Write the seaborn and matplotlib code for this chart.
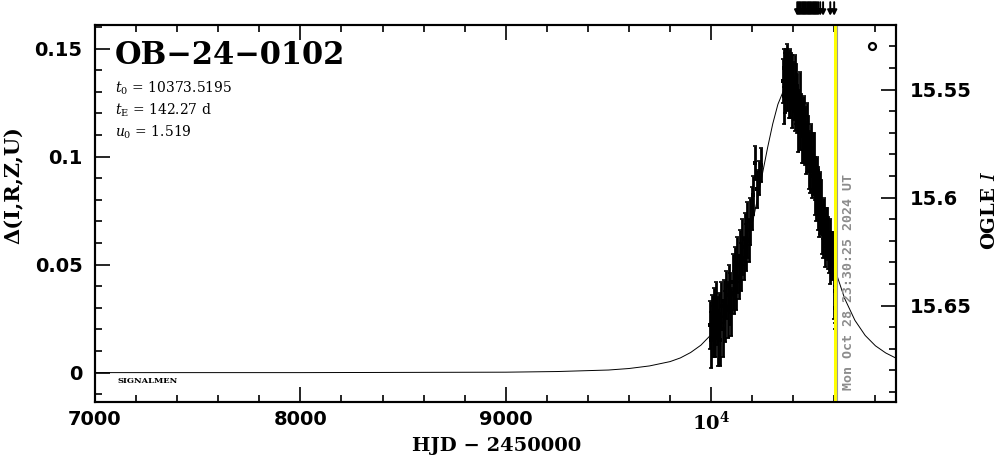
import matplotlib
matplotlib.use("Agg")
import matplotlib.pyplot as plt
from matplotlib.ticker import MultipleLocator
import numpy as np
import seaborn as sns

# model light curve
model_hjd = [7000, 7500, 8000, 8500, 9000, 9250, 9500, 9600, 9700, 9800, 9850, 9900,
             9950, 10000, 10050, 10100, 10150, 10175, 10200, 10225, 10250, 10275, 10300,
             10325, 10350, 10373.5, 10400, 10425, 10450, 10475, 10500, 10525, 10550,
             10575, 10600, 10650, 10700, 10750, 10800, 10850, 10900]
model_dmag = [0.0, 0.0, 0.0, 0.0001, 0.0002, 0.0005, 0.0012, 0.0019, 0.0031, 0.0051, 0.0068, 0.0093,
              0.0127, 0.0176, 0.0248, 0.0350, 0.0495, 0.0586, 0.0689, 0.0801, 0.0922, 0.1042, 0.1152,
              0.1242, 0.1300, 0.1318, 0.1295, 0.1233, 0.1140, 0.1028, 0.0908, 0.0788, 0.0676,
              0.0574, 0.0485, 0.0343, 0.0242, 0.0172, 0.0124, 0.0091, 0.0067]

# OGLE points, rising branch
rise_hjd = [9995, 10000, 10004, 10008, 10012, 10016, 10020, 10025, 10030, 10034, 10040, 10045,
            10050, 10056, 10062, 10068, 10074, 10080, 10086, 10092, 10098, 10104, 10110, 10116,
            10122, 10128, 10134, 10140, 10146, 10152, 10158, 10164, 10170, 10176, 10182, 10190,
            10198, 10206, 10214, 10222, 10232, 10242]
rise_dmag = [0.022, 0.015, 0.026, 0.019, 0.028, 0.021, 0.017, 0.030, 0.024, 0.016, 0.027, 0.015,
             0.031, 0.020, 0.033, 0.026, 0.036, 0.029, 0.040, 0.034, 0.028, 0.042, 0.037, 0.046,
             0.040, 0.050, 0.044, 0.054, 0.049, 0.058, 0.053, 0.062, 0.058, 0.066, 0.061, 0.070,
             0.076, 0.082, 0.097, 0.085, 0.090, 0.096]
rise_err = [0.011, 0.013, 0.010, 0.012, 0.011, 0.014, 0.010, 0.012, 0.011, 0.013, 0.010, 0.012,
            0.011, 0.013, 0.010, 0.012, 0.011, 0.013, 0.010, 0.012, 0.011, 0.013, 0.010, 0.012,
            0.011, 0.013, 0.010, 0.012, 0.011, 0.013, 0.010, 0.012, 0.011, 0.013, 0.010, 0.011,
            0.010, 0.009, 0.008, 0.009, 0.008, 0.008]

# peak and falling branch
fall_hjd = [10350, 10354, 10357, 10361, 10364, 10368, 10371, 10375, 10378, 10382, 10385, 10389,
            10392, 10396, 10399, 10403, 10406, 10410, 10413, 10417, 10420, 10424, 10427, 10431,
            10434, 10438, 10441, 10445, 10448, 10452, 10455, 10459, 10462, 10466, 10469, 10473,
            10476, 10480, 10483, 10487, 10490, 10494, 10497, 10501, 10504, 10508, 10511, 10515,
            10518, 10522, 10525, 10529, 10532, 10536, 10539, 10543, 10546, 10550, 10553, 10557,
            10560, 10564, 10567, 10571, 10574, 10578, 10581, 10585, 10588, 10592,
            10597, 10601, 10604, 10607, 10610]
fall_dmag = [0.135, 0.128, 0.141, 0.134, 0.139, 0.131, 0.139, 0.140, 0.132, 0.139, 0.128, 0.135,
             0.138, 0.127, 0.133, 0.127, 0.134, 0.121, 0.129, 0.122, 0.128, 0.115, 0.122, 0.125,
             0.114, 0.119, 0.110, 0.118, 0.111, 0.117, 0.106, 0.110, 0.101, 0.111, 0.104, 0.109,
             0.098, 0.103, 0.097, 0.104, 0.091, 0.098, 0.091, 0.097, 0.084, 0.090, 0.083, 0.091,
             0.080, 0.084, 0.073, 0.081, 0.073, 0.077, 0.065, 0.071, 0.064, 0.073, 0.060, 0.067,
             0.061, 0.066, 0.056, 0.062, 0.055, 0.063, 0.051, 0.057, 0.052, 0.057,
             0.045, 0.038, 0.030, 0.026, 0.029]
fall_err = [0.010, 0.013, 0.009, 0.014, 0.011, 0.010, 0.013, 0.009, 0.014, 0.011,
            0.010, 0.013, 0.009, 0.014, 0.011, 0.010, 0.013, 0.009, 0.014, 0.011,
            0.010, 0.013, 0.009, 0.014, 0.011, 0.010, 0.013, 0.009, 0.014, 0.011,
            0.010, 0.013, 0.009, 0.014, 0.011, 0.010, 0.013, 0.009, 0.014, 0.011,
            0.010, 0.013, 0.009, 0.014, 0.011, 0.010, 0.013, 0.009, 0.014, 0.011,
            0.010, 0.012, 0.009, 0.012, 0.010, 0.009, 0.011, 0.008, 0.011, 0.009,
            0.008, 0.010, 0.008, 0.010, 0.009, 0.008, 0.010, 0.008, 0.009, 0.008,
            0.020, 0.015, 0.010, 0.012, 0.008]

# observation markers above the frame
arrow_hjd = [10419, 10425, 10431, 10437, 10443, 10449, 10455, 10461, 10467, 10473, 10479,
             10485, 10491, 10497, 10503, 10509, 10515, 10521, 10531, 10545, 10580, 10599]

now_hjd = 10604
base_mag = 15.681
xlim = (7000, 10900)
ylim = (-0.0136, 0.1609)

x_ticks = [7000, 8000, 9000, 10000]
x_labels = ["7000", "8000", "9000", r"$\mathbf{10^{4}}$"]
y_ticks = [0, 0.05, 0.1, 0.15]
y_labels = ["0", "0.05", "0.1", "0.15"]
mag_ticks = [15.55, 15.6, 15.65]
mag_labels = ["15.55", "15.6", "15.65"]

sns.set_style("ticks")
plt.rcParams["font.family"] = ["DejaVu Sans"]
plt.rcParams["mathtext.fontset"] = "dejavuserif"
plt.rcParams["text.color"] = "black"
plt.rcParams["axes.labelcolor"] = "black"
plt.rcParams["xtick.color"] = "black"
plt.rcParams["ytick.color"] = "black"

fig = plt.figure(figsize=(9.99, 4.59), dpi=100)
ax = fig.add_axes([95 / 999, 1 - 402 / 459, 801 / 999, 377 / 459])

sns.lineplot(x=model_hjd, y=model_dmag, ax=ax, color="black", lw=0.7, sort=False)

all_hjd = rise_hjd + fall_hjd
all_dmag = rise_dmag + fall_dmag
all_err = rise_err + fall_err
ax.errorbar(all_hjd, all_dmag, yerr=all_err, fmt="none", ecolor="black",
            elinewidth=2.0, capsize=1.5, capthick=1.2)
sns.scatterplot(x=all_hjd, y=all_dmag, ax=ax, color="black", marker="s", s=6,
                edgecolor="black", linewidth=0)

ax.axvline(now_hjd, color="#ffff00", lw=2.2, zorder=5)
ax.axvline(now_hjd + 7, color="#999999", lw=0.8, zorder=5)

ax.plot([10784], [0.151], marker="o", ms=5, mfc="none", mec="black", mew=1.6)

for t in arrow_hjd:
    ax.annotate("", xy=(t, 1.017), xytext=(t, 1.068),
                xycoords=("data", "axes fraction"), textcoords=("data", "axes fraction"),
                arrowprops=dict(arrowstyle="-|>", color="black", lw=1.4, mutation_scale=8),
                annotation_clip=False)

ax.set_xlim(*xlim)
ax.set_ylim(*ylim)
ax.set_xticks(x_ticks)
ax.set_xticklabels(x_labels)
ax.set_yticks(y_ticks)
ax.set_yticklabels(y_labels)
ax.xaxis.set_minor_locator(MultipleLocator(200))
ax.yaxis.set_minor_locator(MultipleLocator(0.01))
ax.tick_params(which="both", direction="in", top=True, right=False, width=1.2, colors="black")
ax.tick_params(which="major", length=10.5)
ax.tick_params(which="minor", length=5)
ax.tick_params(axis="x", which="major", pad=6)
ax.tick_params(axis="y", which="major", pad=9)
for lab in ax.get_xticklabels() + ax.get_yticklabels():
    lab.set_fontsize(14)
    lab.set_fontweight("bold")
for sp in ax.spines.values():
    sp.set_linewidth(1.5)
    sp.set_color("black")

ax2 = ax.twinx()
ax2.set_ylim(base_mag - ylim[0], base_mag - ylim[1])
ax2.set_yticks(mag_ticks)
ax2.set_yticklabels(mag_labels)
ax2.yaxis.set_minor_locator(MultipleLocator(0.01))
ax2.tick_params(which="both", direction="in", width=1.2, colors="black")
ax2.tick_params(which="major", length=10.5, pad=10)
ax2.tick_params(which="minor", length=5)
for lab in ax2.get_yticklabels():
    lab.set_fontsize(14)
    lab.set_fontweight("bold")
for sp in ax2.spines.values():
    sp.set_linewidth(1.5)
    sp.set_color("black")

# texts
ax.text(0.025, 0.920, "OB\u221224\u22120102", transform=ax.transAxes, fontsize=22,
        fontweight="bold", family="DejaVu Serif", va="center", ha="left")
ax.text(0.025, 0.833, r"$t_0$ = 10373.5195", transform=ax.transAxes, fontsize=10,
        family="DejaVu Serif", va="center", ha="left")
ax.text(0.025, 0.775, r"$t_{\rm E}$ = 142.27 d", transform=ax.transAxes, fontsize=10,
        family="DejaVu Serif", va="center", ha="left")
ax.text(0.025, 0.716, r"$u_0$ = 1.519", transform=ax.transAxes, fontsize=10,
        family="DejaVu Serif", va="center", ha="left")
ax.text(0.0275, 0.056, "SIGNALMEN", transform=ax.transAxes, fontsize=6,
        family="DejaVu Serif", fontweight="bold", va="center", ha="left")
ax.text(0.9405, 0.032, "Mon Oct 28 23:30:25 2024 UT", transform=ax.transAxes, rotation=90,
        fontsize=9.5, family="DejaVu Sans Mono", fontweight="bold", color="#8c8c8c",
        va="bottom", ha="center", zorder=6)

fig.text(497 / 999, 1 - 446 / 459, "HJD \u2212 2450000", fontsize=14, fontweight="bold",
         family="DejaVu Serif", ha="center", va="center")
fig.text(14 / 999, 1 - 185 / 459, "\u0394(I,R,Z,U)", fontsize=15, fontweight="bold",
         family="DejaVu Serif", rotation=90, ha="center", va="center")
fig.text(990 / 999, 1 - 210 / 459, r"OGLE $\mathbf{\mathit{I}}$", fontsize=14, fontweight="bold",
         family="DejaVu Serif", rotation=90, ha="center", va="center")

fig.savefig("out.png", dpi=100)
